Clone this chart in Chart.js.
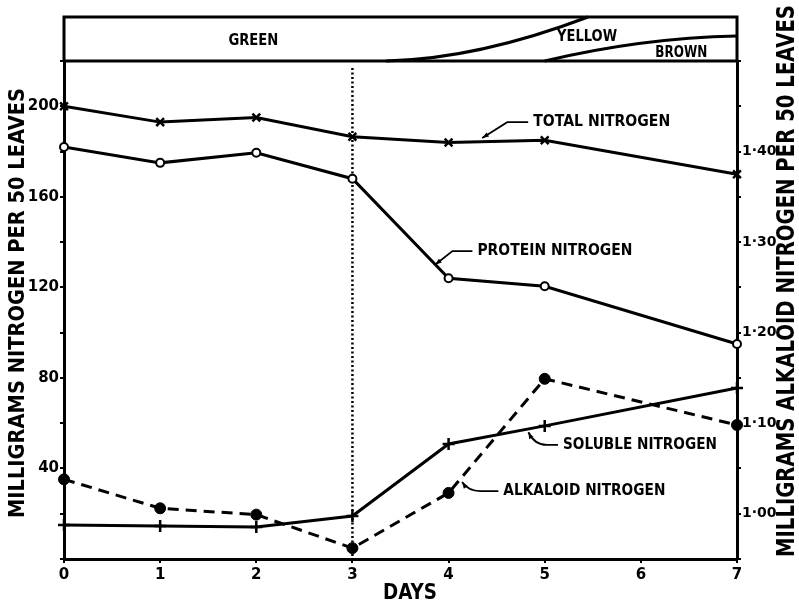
<!DOCTYPE html>
<html>

<head>
    <title>Nitrogen in leaves</title>
    <script src="https://cdn.jsdelivr.net/npm/chart.js"></script>
    <style>
        body { margin: 0; background: #fff; }
    </style>
</head>

<body>
    <canvas id="myChart" width="799" height="604"></canvas>

    <script>
        // data
        const days = [0, 1, 2, 3, 4, 5, 7];
        const totalNitrogen = [200, 193, 195, 186.5, 184, 185, 170];
        const proteinNitrogen = [182, 175, 179.5, 168, 124, 120.5, 95];
        const solubleNitrogen = [15, 14.6, 14.1, 19, 50.8, 58.8, 75.5];
        const alkaloidNitrogen = [1.038, 1.006, 0.999, 0.962, 1.023, 1.149, 1.098];

        const dayLabels = [0, 1, 2, 3, 4, 5, 6, 7];
        const leftTickLabels = [40, 80, 120, 160, 200];
        const rightTickValues = [1.00, 1.10, 1.20, 1.30, 1.40];
        const rightTickLabels = ["1·00", "1·10", "1·20", "1·30", "1·40"];

        const FONT = '"DejaVu Sans", "Liberation Sans", sans-serif';

        // labels with leader lines, in day / left-axis units
        const callouts = [
            { text: "TOTAL NITROGEN", start: 4.88, y: 193, width: 137, elbow: 4.61, tipX: 4.35, tipY: 186, curve: false },
            { text: "PROTEIN NITROGEN", start: 4.30, y: 136, width: 155, elbow: 4.04, tipX: 3.86, tipY: 130, curve: false },
            { text: "SOLUBLE NITROGEN", start: 5.19, y: 50.4, width: 154, elbow: 5.02, tipX: 4.83, tipY: 56, curve: true },
            { text: "ALKALOID NITROGEN", start: 4.57, y: 30, width: 162, elbow: 4.33, tipX: 4.14, tipY: 34, curve: true },
        ];

        function points(values) {
            return days.map((d, i) => ({ x: d, y: values[i] }));
        }

        // draw text squeezed to a given width
        function fitText(ctx, text, cx, cy, width, size, rotation) {
            ctx.save();
            ctx.translate(cx, cy);
            if (rotation) ctx.rotate(rotation);
            ctx.font = "bold " + size + "px " + FONT;
            const w = ctx.measureText(text).width;
            ctx.scale(width / w, 1);
            ctx.textAlign = "center";
            ctx.textBaseline = "middle";
            ctx.fillStyle = "#000";
            ctx.fillText(text, 0, 0);
            ctx.restore();
        }

        function arrowHead(ctx, fromX, fromY, toX, toY) {
            const a = Math.atan2(toY - fromY, toX - fromX);
            ctx.beginPath();
            ctx.moveTo(toX, toY);
            ctx.lineTo(toX - 7 * Math.cos(a - 0.35), toY - 7 * Math.sin(a - 0.35));
            ctx.lineTo(toX - 7 * Math.cos(a + 0.35), toY - 7 * Math.sin(a + 0.35));
            ctx.closePath();
            ctx.fill();
        }

        const dayLinePlugin = {
            id: "dayLine",
            beforeDatasetsDraw(chart) {
                const ctx = chart.ctx;
                const area = chart.chartArea;
                const x = chart.scales.x.getPixelForValue(3);
                ctx.save();
                ctx.strokeStyle = "#000";
                ctx.lineWidth = 2.5;
                ctx.setLineDash([2, 2.5]);
                ctx.beginPath();
                ctx.moveTo(x, area.top + 7);
                ctx.lineTo(x, area.bottom);
                ctx.stroke();
                ctx.restore();
            }
        };

        const decorPlugin = {
            id: "decor",
            afterDraw(chart) {
                const ctx = chart.ctx;
                const area = chart.chartArea;
                const xs = chart.scales.x;
                const ys = chart.scales.y;
                const bTop = area.top - 44;
                const bBot = area.top;

                ctx.save();
                ctx.strokeStyle = "#000";
                ctx.fillStyle = "#000";
                ctx.lineWidth = 3;

                // colour banner
                ctx.beginPath();
                ctx.moveTo(area.left, bBot);
                ctx.lineTo(area.left, bTop);
                ctx.lineTo(area.right, bTop);
                ctx.lineTo(area.right, bBot);
                ctx.moveTo(area.left, bBot);
                ctx.lineTo(area.right, bBot);
                ctx.stroke();

                // green / yellow boundary
                ctx.beginPath();
                ctx.moveTo(xs.getPixelForValue(3.35), bBot);
                ctx.quadraticCurveTo(xs.getPixelForValue(4.3), bBot - 2, xs.getPixelForValue(5.45), bTop);
                ctx.stroke();
                // yellow / brown boundary
                ctx.beginPath();
                ctx.moveTo(xs.getPixelForValue(5.0), bBot);
                ctx.quadraticCurveTo(xs.getPixelForValue(6.0), bTop + 21, xs.getPixelForValue(7), bTop + 19);
                ctx.stroke();

                fitText(ctx, "GREEN", xs.getPixelForValue(1.97), bBot - 20, 50, 15);
                fitText(ctx, "YELLOW", xs.getPixelForValue(5.44), bBot - 23.5, 60, 15);
                fitText(ctx, "BROWN", xs.getPixelForValue(6.42), bBot - 7.5, 52, 15);

                // callouts
                ctx.lineWidth = 1.8;
                callouts.forEach(c => {
                    const sx = xs.getPixelForValue(c.start);
                    const y = ys.getPixelForValue(c.y);
                    const ex = xs.getPixelForValue(c.elbow);
                    const tx = xs.getPixelForValue(c.tipX);
                    const ty = ys.getPixelForValue(c.tipY);
                    ctx.beginPath();
                    ctx.moveTo(sx - 5, y);
                    ctx.lineTo(ex, y);
                    let fx = ex, fy = y;
                    if (c.curve) {
                        const cx = tx + (ex - tx) * 0.35;
                        ctx.quadraticCurveTo(cx, y, tx, ty);
                        fx = cx; fy = y;
                    } else {
                        ctx.lineTo(tx, ty);
                    }
                    ctx.stroke();
                    arrowHead(ctx, fx, fy, tx, ty);
                    fitText(ctx, c.text, sx + c.width / 2, y, c.width, 15);
                });

                // axis titles
                fitText(ctx, "MILLIGRAMS NITROGEN PER 50 LEAVES", 18, 303, 430, 22, -Math.PI / 2);
                fitText(ctx, "MILLIGRAMS ALKALOID NITROGEN PER 50 LEAVES", 787, 281, 552, 25, -Math.PI / 2);
                fitText(ctx, "DAYS", 410, 594, 54, 21);
                ctx.restore();
            }
        };

        const tickFont = { family: FONT, weight: "bold", size: 15 };
        const gridStyle = { drawOnChartArea: false, color: "#000", lineWidth: 2, tickLength: 4 };
        const borderStyle = { color: "#000", width: 3 };

        const ctx = document.getElementById("myChart").getContext("2d");
        new Chart(ctx, {
            type: "line",
            data: {
                datasets: [
                    {
                        label: "Total nitrogen",
                        data: points(totalNitrogen),
                        yAxisID: "y",
                        clip: false,
                        borderColor: "#000",
                        borderWidth: 3,
                        pointStyle: "crossRot",
                        pointRadius: 5.5,
                        pointBorderWidth: 2.5,
                        pointBorderColor: "#000",
                    },
                    {
                        label: "Protein nitrogen",
                        data: points(proteinNitrogen),
                        yAxisID: "y",
                        clip: false,
                        borderColor: "#000",
                        borderWidth: 3,
                        pointStyle: "circle",
                        pointRadius: 4,
                        pointBorderWidth: 2,
                        pointBorderColor: "#000",
                        pointBackgroundColor: "#fff",
                    },
                    {
                        label: "Soluble nitrogen",
                        data: points(solubleNitrogen),
                        yAxisID: "y",
                        clip: false,
                        borderColor: "#000",
                        borderWidth: 3,
                        pointStyle: "cross",
                        pointRadius: 6,
                        pointBorderWidth: 2.5,
                        pointBorderColor: "#000",
                    },
                    {
                        label: "Alkaloid nitrogen",
                        data: points(alkaloidNitrogen),
                        yAxisID: "y1",
                        clip: false,
                        borderColor: "#000",
                        borderWidth: 3,
                        borderDash: [11, 7],
                        pointStyle: "circle",
                        pointRadius: 5.5,
                        pointBorderWidth: 1,
                        pointBorderColor: "#000",
                        pointBackgroundColor: "#000",
                    },
                ],
            },
            options: {
                responsive: false,
                animation: false,
                layout: { padding: { top: 61, left: 0, right: 0, bottom: 0 } },
                plugins: { legend: { display: false }, tooltip: { enabled: false } },
                scales: {
                    x: {
                        type: "linear",
                        min: 0,
                        max: 7,
                        afterFit: s => { s.height = 45; },
                        border: borderStyle,
                        grid: gridStyle,
                        ticks: {
                            stepSize: 1,
                            autoSkip: false,
                            maxRotation: 0,
                            padding: 3,
                            color: "#000",
                            font: tickFont,
                            callback: v => dayLabels.includes(v) ? String(v) : "",
                        },
                    },
                    y: {
                        position: "left",
                        min: 0,
                        max: 220,
                        afterFit: s => { s.width = 64; },
                        border: borderStyle,
                        grid: gridStyle,
                        ticks: {
                            stepSize: 20,
                            autoSkip: false,
                            padding: 1,
                            color: "#000",
                            font: tickFont,
                            callback: v => leftTickLabels.includes(v) ? String(v) : "",
                        },
                    },
                    y1: {
                        position: "right",
                        min: 0.95,
                        max: 1.5,
                        afterFit: s => { s.width = 62; },
                        border: borderStyle,
                        grid: gridStyle,
                        ticks: {
                            stepSize: 0.05,
                            autoSkip: false,
                            padding: 1,
                            color: "#000",
                            font: { family: FONT, weight: "bold", size: 14 },
                            callback: v => {
                                const i = rightTickValues.findIndex(t => Math.abs(t - v) < 1e-6);
                                return i >= 0 ? rightTickLabels[i] : "";
                            },
                        },
                    },
                },
            },
            plugins: [dayLinePlugin, decorPlugin],
        });
    </script>
</body>

</html>
